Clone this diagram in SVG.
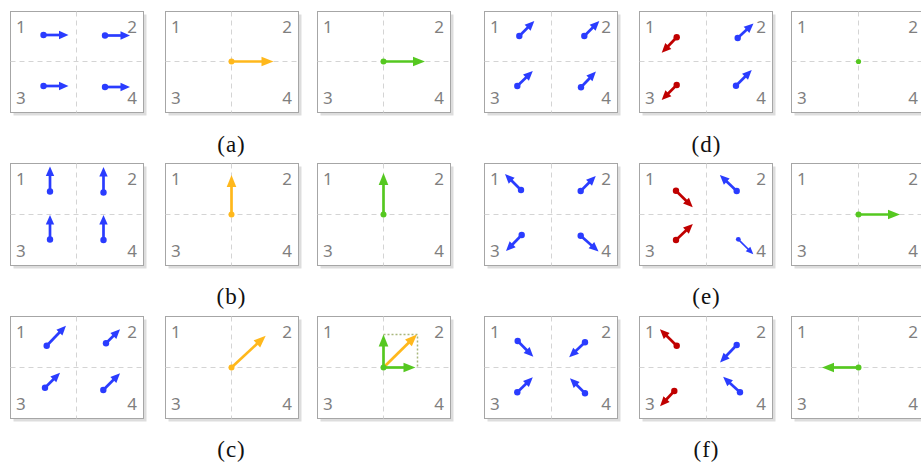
<svg xmlns="http://www.w3.org/2000/svg" width="921" height="462" viewBox="0 0 921 462">
<style>
.sh{fill:#dddddd}
.pn{fill:#ffffff;stroke:#a6a6a6;stroke-width:1}
.ax{stroke:#d4d4d4;stroke-width:1;stroke-dasharray:5 4;fill:none}
.num{font-family:"Noto Sans","Open Sans",sans-serif;font-size:17px;fill:#7f7f7f}
.cap{font-family:"Liberation Serif","DejaVu Serif",serif;font-size:23px;fill:#111;text-anchor:middle;letter-spacing:1px}
.b{stroke:#2a3cff;stroke-width:2.7;fill:none;marker-end:url(#hb)}
.r{stroke:#c00000;stroke-width:2.7;fill:none;marker-end:url(#hr)}
.bs{stroke:#2a3cff;stroke-width:1.7;fill:none;marker-end:url(#hbs)}
.y{stroke:#ffb81c;stroke-width:2.7;fill:none;marker-end:url(#hy)}
.g{stroke:#55c820;stroke-width:2.7;fill:none;marker-end:url(#hg)}
.db{fill:#2a3cff}.dr{fill:#c00000}.dy{fill:#ffb81c}.dg{fill:#55c820}
.dot{stroke:#a9b77d;stroke-width:1.5;stroke-dasharray:2 2;fill:none}
</style>
<defs>
<marker id="hb" markerUnits="userSpaceOnUse" orient="auto" viewBox="-5 -5 11 10" markerWidth="11" markerHeight="10" refX="0" refY="0"><path d="M5,0 L-4.5,-4.2 L-4.5,4.2 z" fill="#2a3cff"/></marker>
<marker id="hr" markerUnits="userSpaceOnUse" orient="auto" viewBox="-5 -5 11 10" markerWidth="11" markerHeight="10" refX="0" refY="0"><path d="M5,0 L-4.5,-4.2 L-4.5,4.2 z" fill="#c00000"/></marker>
<marker id="hbs" markerUnits="userSpaceOnUse" orient="auto" viewBox="-5 -5 10 10" markerWidth="10" markerHeight="10" refX="0" refY="0"><path d="M4,0 L-3.5,-3.2 L-3.5,3.2 z" fill="#2a3cff"/></marker>
<marker id="hy" markerUnits="userSpaceOnUse" orient="auto" viewBox="-7 -6 14 12" markerWidth="14" markerHeight="12" refX="0" refY="0"><path d="M6,0 L-6,-4.8 L-6,4.8 z" fill="#ffb81c"/></marker>
<marker id="hg" markerUnits="userSpaceOnUse" orient="auto" viewBox="-7 -6 14 12" markerWidth="14" markerHeight="12" refX="0" refY="0"><path d="M6,0 L-6,-4.8 L-6,4.8 z" fill="#55c820"/></marker>
</defs>
<rect width="921" height="462" fill="#ffffff"/>

<!-- Row 1 -->
<g id="a-left">
<rect class="sh" x="13.5" y="14.5" width="133" height="101"/>
<rect class="pn" x="10.5" y="11.5" width="133" height="101"/>
<line class="ax" x1="76.5" y1="11.5" x2="76.5" y2="112.5"/><line class="ax" x1="10.5" y1="61.5" x2="143.5" y2="61.5"/>
<text class="num" x="16" y="32.5">1</text><text class="num" x="137" y="32.5" text-anchor="end">2</text>
<text class="num" x="16" y="104">3</text><text class="num" x="137" y="104" text-anchor="end">4</text>
<line class="b" x1="43.5" y1="35" x2="63.5" y2="35"/><circle class="db" cx="43.5" cy="35" r="3.2"/>
<line class="b" x1="105" y1="35.5" x2="125" y2="35.5"/><circle class="db" cx="105" cy="35.5" r="3.2"/>
<line class="b" x1="43.5" y1="86" x2="63.5" y2="86"/><circle class="db" cx="43.5" cy="86" r="3.2"/>
<line class="b" x1="105" y1="87" x2="125" y2="87"/><circle class="db" cx="105" cy="87" r="3.2"/>
</g>
<g id="a-mid">
<rect class="sh" x="168.5" y="14.5" width="133" height="101"/>
<rect class="pn" x="165.5" y="11.5" width="133" height="101"/>
<line class="ax" x1="231.5" y1="11.5" x2="231.5" y2="112.5"/><line class="ax" x1="165.5" y1="61.5" x2="298.5" y2="61.5"/>
<text class="num" x="171" y="32.5">1</text><text class="num" x="292" y="32.5" text-anchor="end">2</text>
<text class="num" x="171" y="104">3</text><text class="num" x="292" y="104" text-anchor="end">4</text>
<line class="y" x1="231.5" y1="61.5" x2="267.5" y2="61.5"/><circle class="dy" cx="231.5" cy="61.5" r="3"/>
</g>
<g id="a-right">
<rect class="sh" x="320.5" y="14.5" width="133" height="101"/>
<rect class="pn" x="317.5" y="11.5" width="133" height="101"/>
<line class="ax" x1="383.5" y1="11.5" x2="383.5" y2="112.5"/><line class="ax" x1="317.5" y1="61.5" x2="450.5" y2="61.5"/>
<text class="num" x="323" y="32.5">1</text><text class="num" x="444" y="32.5" text-anchor="end">2</text>
<text class="num" x="323" y="104">3</text><text class="num" x="444" y="104" text-anchor="end">4</text>
<line class="g" x1="383.5" y1="61.5" x2="419" y2="61.5"/><circle class="dg" cx="383.5" cy="61.5" r="3"/>
</g>
<g id="d-left">
<rect class="sh" x="487.5" y="14.5" width="133" height="101"/>
<rect class="pn" x="484.5" y="11.5" width="133" height="101"/>
<line class="ax" x1="551.5" y1="11.5" x2="551.5" y2="112.5"/><line class="ax" x1="484.5" y1="61.5" x2="617.5" y2="61.5"/>
<text class="num" x="490" y="32.5">1</text><text class="num" x="611" y="32.5" text-anchor="end">2</text>
<text class="num" x="490" y="104">3</text><text class="num" x="611" y="104" text-anchor="end">4</text>
<line class="b" x1="519.3" y1="36" x2="530.8" y2="24.5"/><circle class="db" cx="519.3" cy="36" r="3.2"/>
<line class="b" x1="584.3" y1="36" x2="595.8" y2="24.5"/><circle class="db" cx="584.3" cy="36" r="3.2"/>
<line class="b" x1="517.3" y1="86" x2="529.2" y2="74.5"/><circle class="db" cx="517.3" cy="86" r="3.2"/>
<line class="b" x1="581" y1="87.3" x2="592.5" y2="75.2"/><circle class="db" cx="581" cy="87.3" r="3.2"/>
</g>
<g id="d-mid">
<rect class="sh" x="642.5" y="14.5" width="133" height="101"/>
<rect class="pn" x="639.5" y="11.5" width="133" height="101"/>
<line class="ax" x1="706.5" y1="11.5" x2="706.5" y2="112.5"/><line class="ax" x1="639.5" y1="61.5" x2="772.5" y2="61.5"/>
<text class="num" x="645" y="32.5">1</text><text class="num" x="766" y="32.5" text-anchor="end">2</text>
<text class="num" x="645" y="104">3</text><text class="num" x="766" y="104" text-anchor="end">4</text>
<line class="r" x1="676.7" y1="37.3" x2="665.2" y2="49.2"/><circle class="dr" cx="676.7" cy="37.3" r="3.2"/>
<line class="b" x1="737.7" y1="38" x2="749.8" y2="26.8"/><circle class="db" cx="737.7" cy="38" r="3.2"/>
<line class="r" x1="676.7" y1="85" x2="665.2" y2="96.5"/><circle class="dr" cx="676.7" cy="85" r="3.2"/>
<line class="b" x1="736" y1="85.7" x2="748.2" y2="73.5"/><circle class="db" cx="736" cy="85.7" r="3.2"/>
</g>
<g id="d-right">
<rect class="sh" x="794.5" y="14.5" width="133" height="101"/>
<rect class="pn" x="791.5" y="11.5" width="133" height="101"/>
<line class="ax" x1="858.5" y1="11.5" x2="858.5" y2="112.5"/><line class="ax" x1="791.5" y1="61.5" x2="924.5" y2="61.5"/>
<text class="num" x="797" y="32.5">1</text><text class="num" x="918" y="32.5" text-anchor="end">2</text>
<text class="num" x="797" y="104">3</text><text class="num" x="918" y="104" text-anchor="end">4</text>
<circle class="dg" cx="858.5" cy="61.5" r="2.6"/>
</g>

<!-- Row 2 -->
<g id="b-left">
<rect class="sh" x="13.5" y="166.5" width="133" height="102"/>
<rect class="pn" x="10.5" y="163.5" width="133" height="102"/>
<line class="ax" x1="76.5" y1="163.5" x2="76.5" y2="265.5"/><line class="ax" x1="10.5" y1="214.5" x2="143.5" y2="214.5"/>
<text class="num" x="16" y="185">1</text><text class="num" x="137" y="185" text-anchor="end">2</text>
<text class="num" x="16" y="257">3</text><text class="num" x="137" y="257" text-anchor="end">4</text>
<line class="b" x1="50" y1="191.5" x2="50" y2="171.5"/><circle class="db" cx="50" cy="191.5" r="3.2"/>
<line class="b" x1="103.5" y1="192.5" x2="103.5" y2="172"/><circle class="db" cx="103.5" cy="192.5" r="3.2"/>
<line class="b" x1="50" y1="239.5" x2="50" y2="220"/><circle class="db" cx="50" cy="239.5" r="3.2"/>
<line class="b" x1="103.5" y1="240" x2="103.5" y2="220"/><circle class="db" cx="103.5" cy="240" r="3.2"/>
</g>
<g id="b-mid">
<rect class="sh" x="168.5" y="166.5" width="133" height="102"/>
<rect class="pn" x="165.5" y="163.5" width="133" height="102"/>
<line class="ax" x1="231.5" y1="163.5" x2="231.5" y2="265.5"/><line class="ax" x1="165.5" y1="214.5" x2="298.5" y2="214.5"/>
<text class="num" x="171" y="185">1</text><text class="num" x="292" y="185" text-anchor="end">2</text>
<text class="num" x="171" y="257">3</text><text class="num" x="292" y="257" text-anchor="end">4</text>
<line class="y" x1="231.5" y1="214.5" x2="231.5" y2="181"/><circle class="dy" cx="231.5" cy="214.5" r="3"/>
</g>
<g id="b-right">
<rect class="sh" x="320.5" y="166.5" width="133" height="102"/>
<rect class="pn" x="317.5" y="163.5" width="133" height="102"/>
<line class="ax" x1="383.5" y1="163.5" x2="383.5" y2="265.5"/><line class="ax" x1="317.5" y1="214.5" x2="450.5" y2="214.5"/>
<text class="num" x="323" y="185">1</text><text class="num" x="444" y="185" text-anchor="end">2</text>
<text class="num" x="323" y="257">3</text><text class="num" x="444" y="257" text-anchor="end">4</text>
<line class="g" x1="383.5" y1="214.5" x2="383.5" y2="179"/><circle class="dg" cx="383.5" cy="214.5" r="3"/>
</g>
<g id="e-left">
<rect class="sh" x="487.5" y="166.5" width="133" height="102"/>
<rect class="pn" x="484.5" y="163.5" width="133" height="102"/>
<line class="ax" x1="551.5" y1="163.5" x2="551.5" y2="265.5"/><line class="ax" x1="484.5" y1="214.5" x2="617.5" y2="214.5"/>
<text class="num" x="490" y="185">1</text><text class="num" x="611" y="185" text-anchor="end">2</text>
<text class="num" x="490" y="257">3</text><text class="num" x="611" y="257" text-anchor="end">4</text>
<line class="b" x1="521" y1="190" x2="508.5" y2="177.5"/><circle class="db" cx="521" cy="190" r="3.2"/>
<line class="b" x1="580.7" y1="191" x2="592.2" y2="179.5"/><circle class="db" cx="580.7" cy="191" r="3.2"/>
<line class="b" x1="521.7" y1="235" x2="509.5" y2="247.5"/><circle class="db" cx="521.7" cy="235" r="3.2"/>
<line class="b" x1="580.7" y1="235.7" x2="594.8" y2="248.2"/><circle class="db" cx="580.7" cy="235.7" r="3.2"/>
</g>
<g id="e-mid">
<rect class="sh" x="642.5" y="166.5" width="133" height="102"/>
<rect class="pn" x="639.5" y="163.5" width="133" height="102"/>
<line class="ax" x1="706.5" y1="163.5" x2="706.5" y2="265.5"/><line class="ax" x1="639.5" y1="214.5" x2="772.5" y2="214.5"/>
<text class="num" x="645" y="185">1</text><text class="num" x="766" y="185" text-anchor="end">2</text>
<text class="num" x="645" y="257">3</text><text class="num" x="766" y="257" text-anchor="end">4</text>
<line class="r" x1="676" y1="190.7" x2="689.2" y2="203.8"/><circle class="dr" cx="676" cy="190.7" r="3.2"/>
<line class="b" x1="736.7" y1="191" x2="723.5" y2="178.5"/><circle class="db" cx="736.7" cy="191" r="3.2"/>
<line class="r" x1="676" y1="240" x2="689.2" y2="227.5"/><circle class="dr" cx="676" cy="240" r="3.2"/>
<line class="bs" x1="738.3" y1="239.3" x2="750.5" y2="251.5"/><circle class="db" cx="738.3" cy="239.3" r="2.4"/>
</g>
<g id="e-right">
<rect class="sh" x="794.5" y="166.5" width="133" height="102"/>
<rect class="pn" x="791.5" y="163.5" width="133" height="102"/>
<line class="ax" x1="858.5" y1="163.5" x2="858.5" y2="265.5"/><line class="ax" x1="791.5" y1="214.5" x2="924.5" y2="214.5"/>
<text class="num" x="797" y="185">1</text><text class="num" x="918" y="185" text-anchor="end">2</text>
<text class="num" x="797" y="257">3</text><text class="num" x="918" y="257" text-anchor="end">4</text>
<line class="g" x1="858.5" y1="214.5" x2="894" y2="214.5"/><circle class="dg" cx="858.5" cy="214.5" r="3"/>
</g>

<!-- Row 3 -->
<g id="c-left">
<rect class="sh" x="13.5" y="319.5" width="133" height="102"/>
<rect class="pn" x="10.5" y="316.5" width="133" height="102"/>
<line class="ax" x1="76.5" y1="316.5" x2="76.5" y2="418.5"/><line class="ax" x1="10.5" y1="367.5" x2="143.5" y2="367.5"/>
<text class="num" x="16" y="338">1</text><text class="num" x="137" y="338" text-anchor="end">2</text>
<text class="num" x="16" y="410">3</text><text class="num" x="137" y="410" text-anchor="end">4</text>
<line class="b" x1="46.7" y1="345.7" x2="62.5" y2="329.3"/><circle class="db" cx="46.7" cy="345.7" r="3.2"/>
<line class="b" x1="106" y1="343.3" x2="116.5" y2="332.8"/><circle class="db" cx="106" cy="343.3" r="3.2"/>
<line class="b" x1="45" y1="387.7" x2="56.5" y2="376.2"/><circle class="db" cx="45" cy="387.7" r="3.2"/>
<line class="b" x1="103.3" y1="390" x2="116.5" y2="376.8"/><circle class="db" cx="103.3" cy="390" r="3.2"/>
</g>
<g id="c-mid">
<rect class="sh" x="168.5" y="319.5" width="133" height="102"/>
<rect class="pn" x="165.5" y="316.5" width="133" height="102"/>
<line class="ax" x1="231.5" y1="316.5" x2="231.5" y2="418.5"/><line class="ax" x1="165.5" y1="367.5" x2="298.5" y2="367.5"/>
<text class="num" x="171" y="338">1</text><text class="num" x="292" y="338" text-anchor="end">2</text>
<text class="num" x="171" y="410">3</text><text class="num" x="292" y="410" text-anchor="end">4</text>
<line class="y" x1="231.5" y1="367.5" x2="261.3" y2="339.8"/><circle class="dy" cx="231.5" cy="367.5" r="3"/>
</g>
<g id="c-right">
<rect class="sh" x="320.5" y="319.5" width="133" height="102"/>
<rect class="pn" x="317.5" y="316.5" width="133" height="102"/>
<line class="ax" x1="383.5" y1="316.5" x2="383.5" y2="418.5"/><line class="ax" x1="317.5" y1="367.5" x2="450.5" y2="367.5"/>
<text class="num" x="323" y="338">1</text><text class="num" x="444" y="338" text-anchor="end">2</text>
<text class="num" x="323" y="410">3</text><text class="num" x="444" y="410" text-anchor="end">4</text>
<path class="dot" d="M383.5,334.5 H417.5 V367.5"/>
<line class="y" x1="383.5" y1="367.5" x2="412.7" y2="338.7"/>
<line class="g" x1="383.5" y1="367.5" x2="383.5" y2="340.5"/>
<line class="g" x1="383.5" y1="367.5" x2="409.5" y2="367.5"/>
<circle class="dg" cx="383.5" cy="367.5" r="3"/>
</g>
<g id="f-left">
<rect class="sh" x="487.5" y="319.5" width="133" height="102"/>
<rect class="pn" x="484.5" y="316.5" width="133" height="102"/>
<line class="ax" x1="551.5" y1="316.5" x2="551.5" y2="418.5"/><line class="ax" x1="484.5" y1="367.5" x2="617.5" y2="367.5"/>
<text class="num" x="490" y="338">1</text><text class="num" x="611" y="338" text-anchor="end">2</text>
<text class="num" x="490" y="410">3</text><text class="num" x="611" y="410" text-anchor="end">4</text>
<line class="b" x1="517.7" y1="341" x2="529.8" y2="353.2"/><circle class="db" cx="517.7" cy="341" r="3.2"/>
<line class="b" x1="585" y1="342.3" x2="572.8" y2="353.8"/><circle class="db" cx="585" cy="342.3" r="3.2"/>
<line class="b" x1="517.3" y1="392.3" x2="529.2" y2="380.8"/><circle class="db" cx="517.3" cy="392.3" r="3.2"/>
<line class="b" x1="585" y1="393.3" x2="573.5" y2="381.8"/><circle class="db" cx="585" cy="393.3" r="3.2"/>
</g>
<g id="f-mid">
<rect class="sh" x="642.5" y="319.5" width="133" height="102"/>
<rect class="pn" x="639.5" y="316.5" width="133" height="102"/>
<line class="ax" x1="706.5" y1="316.5" x2="706.5" y2="418.5"/><line class="ax" x1="639.5" y1="367.5" x2="772.5" y2="367.5"/>
<text class="num" x="645" y="338">1</text><text class="num" x="766" y="338" text-anchor="end">2</text>
<text class="num" x="645" y="410">3</text><text class="num" x="766" y="410" text-anchor="end">4</text>
<line class="r" x1="676.7" y1="345.7" x2="663.5" y2="332.8"/><circle class="dr" cx="676.7" cy="345.7" r="3.2"/>
<line class="b" x1="736.7" y1="345" x2="723.5" y2="358.8"/><circle class="db" cx="736.7" cy="345" r="3.2"/>
<line class="r" x1="674.3" y1="391" x2="663.5" y2="402.5"/><circle class="dr" cx="674.3" cy="391" r="3.2"/>
<line class="b" x1="740" y1="392.3" x2="726.8" y2="380.2"/><circle class="db" cx="740" cy="392.3" r="3.2"/>
</g>
<g id="f-right">
<rect class="sh" x="794.5" y="319.5" width="133" height="102"/>
<rect class="pn" x="791.5" y="316.5" width="133" height="102"/>
<line class="ax" x1="858.5" y1="316.5" x2="858.5" y2="418.5"/><line class="ax" x1="791.5" y1="367.5" x2="924.5" y2="367.5"/>
<text class="num" x="797" y="338">1</text><text class="num" x="918" y="338" text-anchor="end">2</text>
<text class="num" x="797" y="410">3</text><text class="num" x="918" y="410" text-anchor="end">4</text>
<line class="g" x1="858.5" y1="367.5" x2="828" y2="367.5"/><circle class="dg" cx="858.5" cy="367.5" r="3"/>
</g>

<g id="captions">
<text class="cap" x="231.5" y="152">(a)</text>
<text class="cap" x="706.5" y="152">(d)</text>
<text class="cap" x="231.5" y="304">(b)</text>
<text class="cap" x="706.5" y="304">(e)</text>
<text class="cap" x="231.5" y="457">(c)</text>
<text class="cap" x="706.5" y="457">(f)</text>
</g>
</svg>
